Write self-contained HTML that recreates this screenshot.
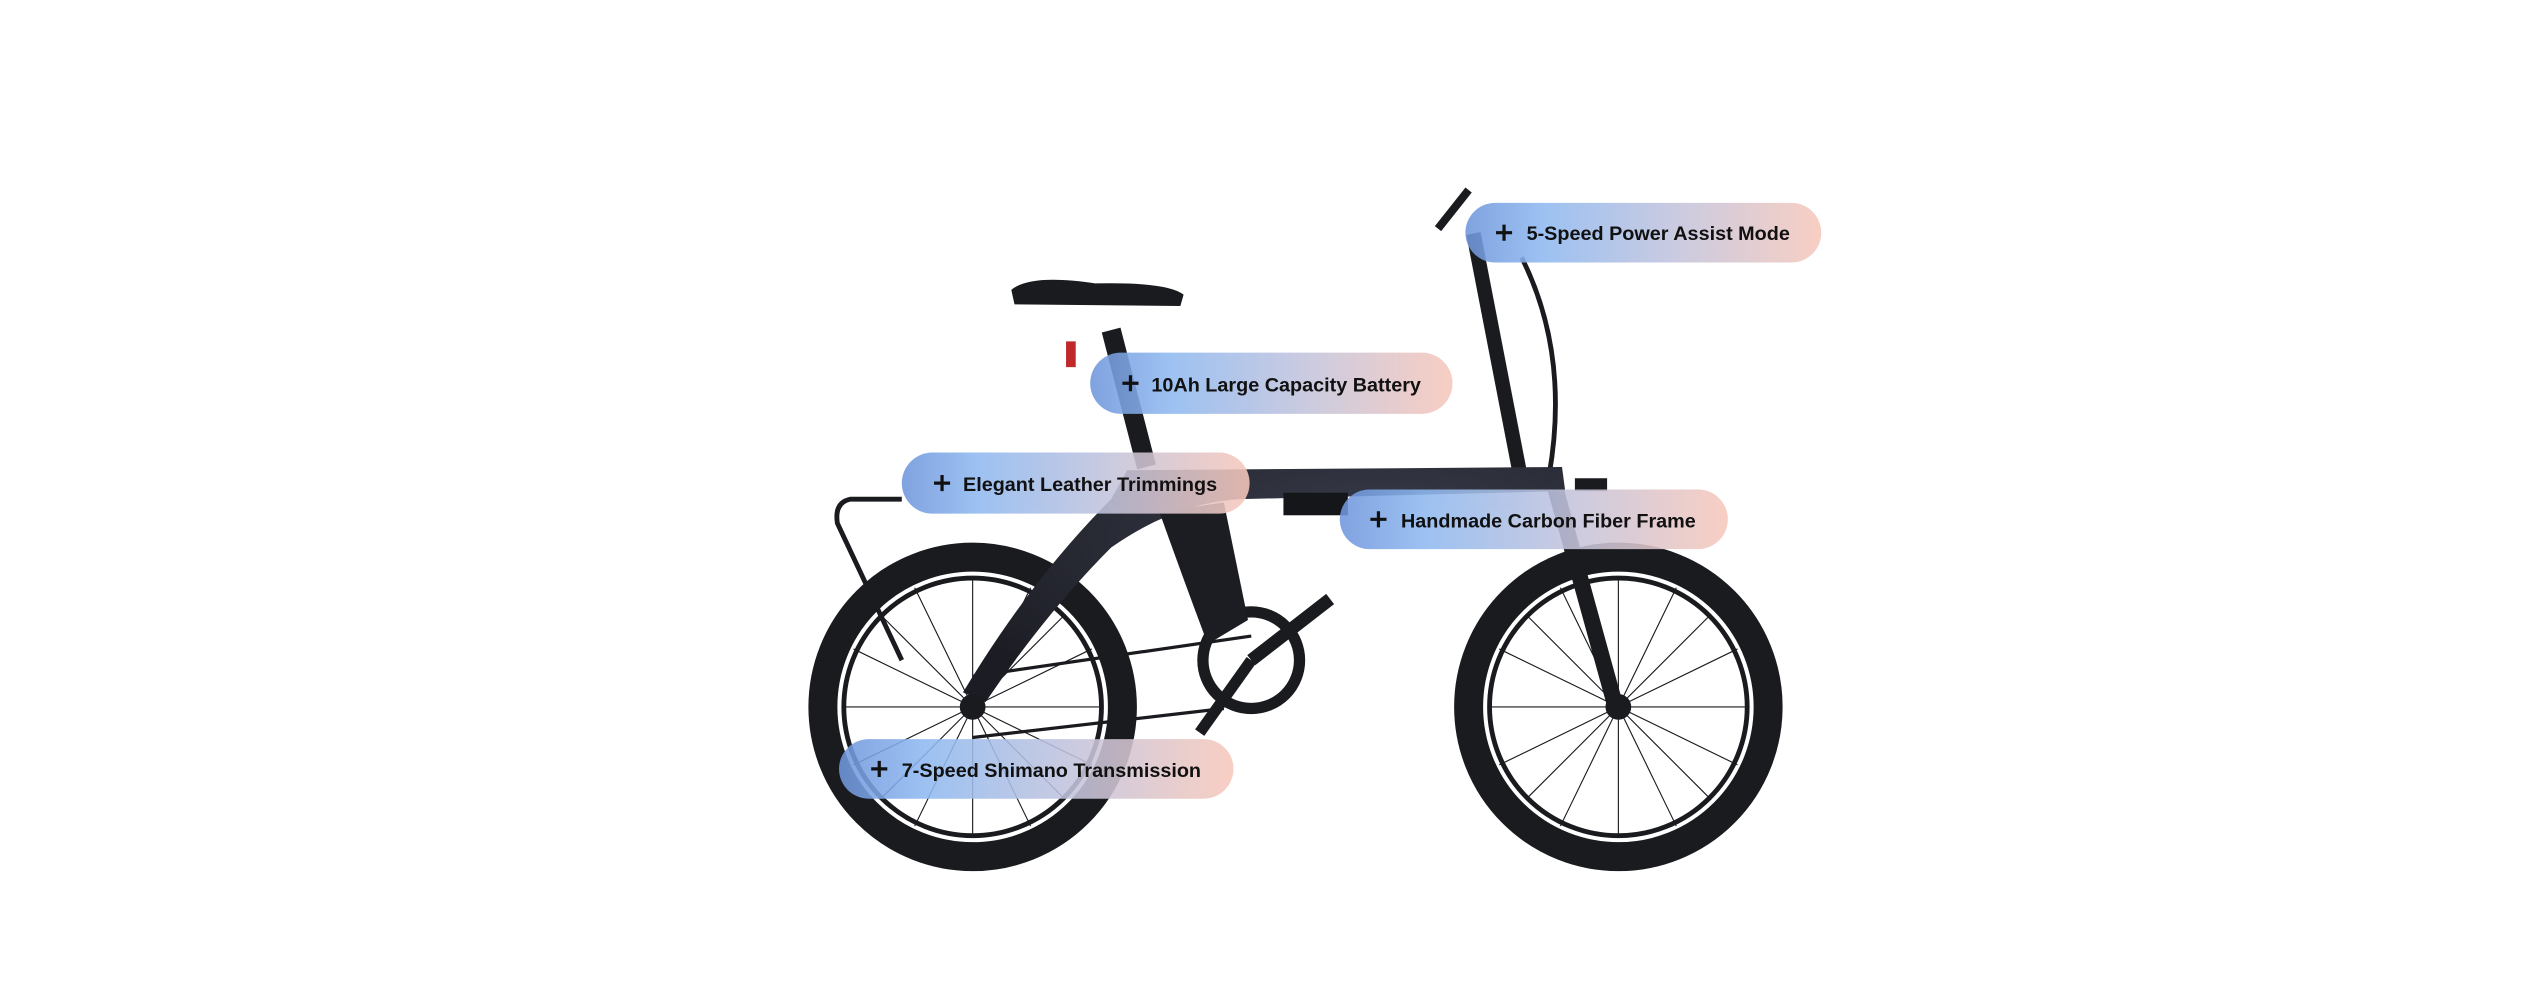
<!DOCTYPE html>
<html><head><meta charset="utf-8"><style>
html,body{margin:0;padding:0;background:#fff;}
svg{display:block;}
</style></head><body>
<svg width="2525" height="1004" viewBox="0 0 1568 623.5" xmlns="http://www.w3.org/2000/svg">
<defs>
<linearGradient id="pg" x1="0" x2="1" y1="0" y2="0">
<stop offset="0" stop-color="#6f96dc"/>
<stop offset="0.22" stop-color="#8fb9f0"/>
<stop offset="0.6" stop-color="#c4c4dc"/>
<stop offset="1" stop-color="#f7c8bb"/>
</linearGradient>
<radialGradient id="fr" cx="0.7" cy="0.3" r="0.8">
<stop offset="0" stop-color="#3a3d4c"/><stop offset="1" stop-color="#1c1d24"/>
</radialGradient>
</defs>
<rect width="1568" height="623.5" fill="#fff"/>
<g fill="none" stroke="#1a1b1f">
<circle cx="604" cy="439" r="93" stroke-width="18"/>
<circle cx="604" cy="439" r="80" stroke-width="3"/>
<circle cx="1005" cy="439" r="93" stroke-width="18"/>
<circle cx="1005" cy="439" r="80" stroke-width="3"/>
<g stroke-width="0.7">
<path d="M604 439 L604 358 M604 439 L661 382 M604 439 L685 439 M604 439 L661 496 M604 439 L604 520 M604 439 L547 496 M604 439 L523 439 M604 439 L547 382 M604 439 L640 365 M604 439 L678 475 M604 439 L568 513 M604 439 L530 403 M604 439 L678 403 M604 439 L640 513 M604 439 L530 475 M604 439 L568 365"/>
<path d="M1005 439 L1005 358 M1005 439 L1062 382 M1005 439 L1086 439 M1005 439 L1062 496 M1005 439 L1005 520 M1005 439 L948 496 M1005 439 L924 439 M1005 439 L948 382 M1005 439 L1041 365 M1005 439 L1079 475 M1005 439 L969 513 M1005 439 L931 403 M1005 439 L1079 403 M1005 439 L1041 513 M1005 439 L931 475 M1005 439 L969 365"/>
</g>
<path d="M560 310 L528 310 Q518 312 520 325 L560 410" stroke-width="3"/>
<path d="M604 420 L777 395 M604 458 L760 440" stroke-width="2"/>
<path d="M915 145 L945 300" stroke-width="9"/>
<path d="M893 142 L912 118" stroke-width="5"/>
<path d="M945 160 Q975 220 962 295" stroke-width="3"/>
<path d="M965 300 L1003 438" stroke-width="10"/>
<path d="M690 205 L712 290" stroke-width="12"/>
<circle cx="777" cy="410" r="30" stroke-width="7"/>
<path d="M777 410 L826 372" stroke-width="8"/>
<path d="M777 410 L745 455" stroke-width="7"/>
</g>
<path d="M628 180 Q640 170 680 176 Q725 175 735 183 L733 190 L630 189 Z" fill="#1a1b1f"/>
<rect x="662" y="212" width="6" height="16" fill="#c0282a"/>
<path d="M700 292 L970 290 L972 305 L770 310 Q730 312 690 340 Q650 380 612 436 L598 430 Q640 360 690 310 Z" fill="url(#fr)"/>
<path d="M720 318 L760 312 L775 385 L750 400 Q735 360 720 318 Z" fill="#1c1d22"/>
<rect x="797" y="306" width="40" height="14" fill="#15161a"/>
<rect x="978" y="297" width="20" height="8" fill="#1a1b1f"/>
<circle cx="604" cy="439" r="8" fill="#1a1b1f"/>
<circle cx="1005" cy="439" r="8" fill="#1a1b1f"/>
<g font-family="Liberation Sans, Arial, sans-serif" font-weight="bold" font-size="12.3" fill="#111">
<g opacity="0.88">
<rect x="910" y="126" width="221" height="37" rx="18.5" fill="url(#pg)"/>
<rect x="677" y="219" width="225" height="38" rx="19" fill="url(#pg)"/>
<rect x="560" y="281" width="216" height="38" rx="19" fill="url(#pg)"/>
<rect x="832" y="304" width="241" height="37" rx="18.5" fill="url(#pg)"/>
<rect x="521" y="459" width="245" height="37" rx="18.5" fill="url(#pg)"/>
</g>
<g stroke="#111" stroke-width="2">
<path d="M929 144.5 H939 M934 139.5 V149.5"/>
<path d="M697 238 H707 M702 233 V243"/>
<path d="M580 300 H590 M585 295 V305"/>
<path d="M851 322.5 H861 M856 317.5 V327.5"/>
<path d="M541 477.5 H551 M546 472.5 V482.5"/>
</g>
<text x="948" y="149">5-Speed Power Assist Mode</text>
<text x="715" y="243">10Ah Large Capacity Battery</text>
<text x="598" y="305">Elegant Leather Trimmings</text>
<text x="870" y="327.5">Handmade Carbon Fiber Frame</text>
<text x="560" y="482.5">7-Speed Shimano Transmission</text>
</g>
</svg>
</body></html>
